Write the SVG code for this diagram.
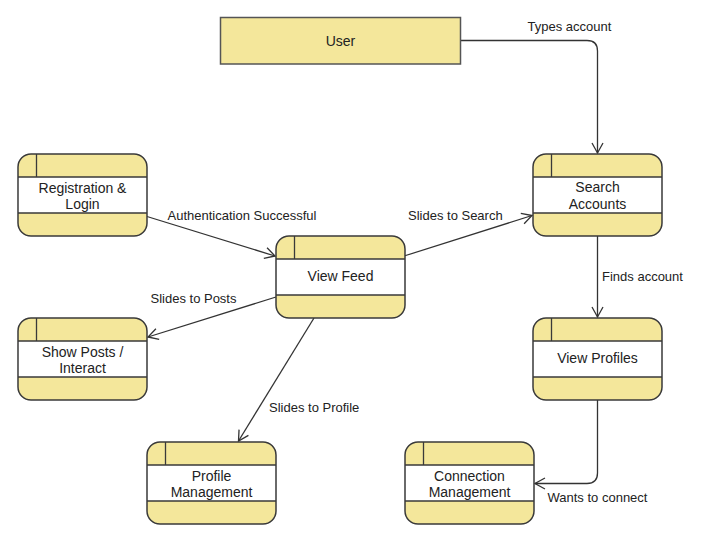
<svg xmlns="http://www.w3.org/2000/svg" width="706" height="547" viewBox="0 0 706 547">
<defs>
<marker id="arr" markerUnits="userSpaceOnUse" markerWidth="14" markerHeight="14" refX="0" refY="0" viewBox="-12 -7 14 14" orient="auto" overflow="visible">
<path d="M-10,-5.5 L0,0 L-10,5.5" fill="none" stroke="#333" stroke-width="1.3"/>
</marker>
<style>
.bg{fill:#f4e79b;stroke:none}
.band{fill:#ffffff;stroke:none}
.out{fill:none;stroke:#3a3a3a;stroke-width:1.5}
.ln{stroke:#3a3a3a;stroke-width:1.3;fill:none}
.nt{font-family:"Liberation Sans",Arial,sans-serif;font-size:14px;fill:#222;text-anchor:middle}
.et{font-family:"Liberation Sans",Arial,sans-serif;font-size:13px;fill:#222}
.edge{fill:none;stroke:#333;stroke-width:1.3;marker-end:url(#arr)}
</style>
</defs>
<rect width="706" height="547" fill="#fff"/>
<g id="edges">
<path class="edge" d="M460.5,40.5 H587 Q597.5,40.5 597.5,51 V153"/>
<path class="edge" d="M597.5,236 V317"/>
<path class="edge" d="M597.5,400 V473 Q597.5,483.5 587,483.5 H535"/>
<path class="edge" d="M147,216.5 L275,256"/>
<path class="edge" d="M404,256 L532,215.5"/>
<path class="edge" d="M276,297 L148,337"/>
<path class="edge" d="M314,318 L238.5,441"/>
<text class="et" x="569.5" y="30.5" text-anchor="middle">Types account</text>
<text class="et" x="602" y="281">Finds account</text>
<text class="et" x="547.5" y="502">Wants to connect</text>
<text class="et" x="167.5" y="219.5">Authentication Successful</text>
<text class="et" x="408" y="220">Slides to Search</text>
<text class="et" x="150.5" y="302.5">Slides to Posts</text>
<text class="et" x="269" y="412">Slides to Profile</text>
</g>
<g id="user">
<rect x="220.5" y="17.5" width="240" height="46.5" fill="#f4e79b" stroke="#555" stroke-width="1.5"/>
<text class="nt" x="340.5" y="45.5">User</text>
</g>
<g id="registration">
<rect class="bg" x="18" y="154" width="129" height="82" rx="13"/>
<rect class="band" x="18" y="177" width="129" height="36"/>
<rect class="out" x="18" y="154" width="129" height="82" rx="13"/>
<path class="ln" d="M18,177 H147 M18,213 H147 M36.5,154 V177"/>
<text class="nt" x="82.5" y="192.5">Registration &amp;</text>
<text class="nt" x="82.5" y="209">Login</text>
</g>
<g id="viewfeed">
<rect class="bg" x="276" y="236" width="129" height="82" rx="13"/>
<rect class="band" x="276" y="259" width="129" height="36"/>
<rect class="out" x="276" y="236" width="129" height="82" rx="13"/>
<path class="ln" d="M276,259 H405 M276,295 H405 M294.5,236 V259"/>
<text class="nt" x="340.5" y="281">View Feed</text>
</g>
<g id="search">
<rect class="bg" x="533" y="154" width="129" height="82" rx="13"/>
<rect class="band" x="533" y="177" width="129" height="36"/>
<rect class="out" x="533" y="154" width="129" height="82" rx="13"/>
<path class="ln" d="M533,177 H662 M533,213 H662 M551.5,154 V177"/>
<text class="nt" x="597.5" y="192">Search</text>
<text class="nt" x="597.5" y="208.5">Accounts</text>
</g>
<g id="showposts">
<rect class="bg" x="18" y="318" width="129" height="82" rx="13"/>
<rect class="band" x="18" y="341" width="129" height="36"/>
<rect class="out" x="18" y="318" width="129" height="82" rx="13"/>
<path class="ln" d="M18,341 H147 M18,377 H147 M36.5,318 V341"/>
<text class="nt" x="82.5" y="356.5">Show Posts /</text>
<text class="nt" x="82.5" y="373">Interact</text>
</g>
<g id="viewprofiles">
<rect class="bg" x="533" y="318" width="129" height="82" rx="13"/>
<rect class="band" x="533" y="341" width="129" height="36"/>
<rect class="out" x="533" y="318" width="129" height="82" rx="13"/>
<path class="ln" d="M533,341 H662 M533,377 H662 M551.5,318 V341"/>
<text class="nt" x="597.5" y="363">View Profiles</text>
</g>
<g id="profilemgmt">
<rect class="bg" x="147" y="442" width="129" height="82" rx="13"/>
<rect class="band" x="147" y="465" width="129" height="36"/>
<rect class="out" x="147" y="442" width="129" height="82" rx="13"/>
<path class="ln" d="M147,465 H276 M147,501 H276 M165.5,442 V465"/>
<text class="nt" x="211.5" y="480.5">Profile</text>
<text class="nt" x="211.5" y="497">Management</text>
</g>
<g id="connmgmt">
<rect class="bg" x="405" y="442" width="129" height="82" rx="13"/>
<rect class="band" x="405" y="465" width="129" height="36"/>
<rect class="out" x="405" y="442" width="129" height="82" rx="13"/>
<path class="ln" d="M405,465 H534 M405,501 H534 M423.5,442 V465"/>
<text class="nt" x="469.5" y="480.5">Connection</text>
<text class="nt" x="469.5" y="497">Management</text>
</g>
</svg>
